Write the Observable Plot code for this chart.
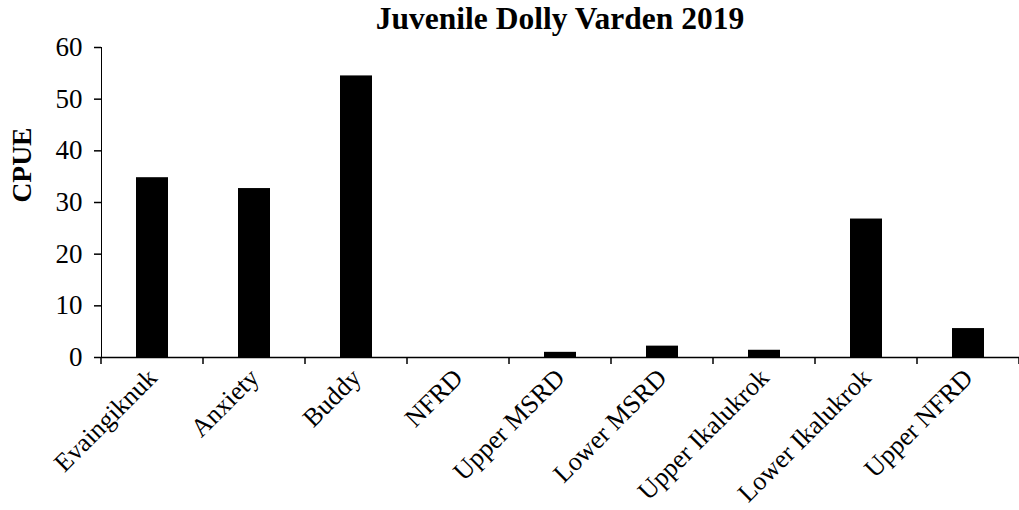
<!DOCTYPE html>
<html>
<head>
<meta charset="utf-8">
<script src="https://cdn.jsdelivr.net/npm/d3@7"></script>
<script src="https://cdn.jsdelivr.net/npm/@observablehq/plot@0.6"></script>
<style>
  body { margin: 0; background: white; }
  #title { font-family: "Liberation Serif", serif; font-weight: bold; font-size: 31.5px;
           line-height: 36px; height: 36px; padding-top: 1px; padding-left: 101px; width: 918px;
           text-align: center; color: black; }
  svg g[aria-label="y-axis tick"] path { stroke-width: 1.5; }
  svg g[aria-label^="x-axis"] text { font-size: 26px; }
</style>
</head>
<body>
<div id="title">Juvenile Dolly Varden 2019</div>
<div id="chart"></div>
<script>
const categories = ["Evaingiknuk", "Anxiety", "Buddy", "NFRD", "Upper MSRD", "Lower MSRD", "Upper Ikalukrok", "Lower Ikalukrok", "Upper NFRD"];
const cpue = [34.8, 32.7, 54.5, 0, 1.0, 2.2, 1.4, 26.8, 5.6];
const yTicks = [0, 10, 20, 30, 40, 50, 60];
const yLabel = "CPUE";

const data = categories.map((c, i) => ({site: c, cpue: cpue[i]}));

function boundaryTicks(index, scales) {
  const x = scales.x, y = scales.y;
  const bw = typeof x.bandwidth === "function" ? x.bandwidth() : (x.bandwidth || 0);
  const centers = categories.map(c => x(c) + bw / 2);
  const step = centers[1] - centers[0];
  const bounds = centers.map(c => c - step / 2).concat([centers[centers.length - 1] + step / 2]);
  const y0 = y(0);
  const g = d3.create("svg:g");
  g.selectAll("line").data(bounds).join("line")
    .attr("x1", d => d).attr("x2", d => d)
    .attr("y1", y0).attr("y2", y0 + 7)
    .attr("stroke", "black").attr("stroke-width", 1.5);
  return g.node();
}

const chart = Plot.plot({
  width: 1019,
  height: 473,
  marginTop: 10,
  marginBottom: 153,
  marginLeft: 101,
  marginRight: 0,
  style: {fontFamily: "Liberation Serif, serif", fontSize: "27px", color: "black", background: "white", overflow: "visible"},
  x: {type: "band", domain: categories, paddingInner: 0.69, paddingOuter: 0.345,
      label: null, tickSize: 0, tickPadding: 16, tickRotate: -45},
  y: {domain: [0, 60], ticks: yTicks, tickSize: 7, tickPadding: 12, label: null, line: true},
  marks: [
    Plot.barY(data, {x: "site", y: "cpue", fill: "black"}),
    Plot.ruleY([0], {stroke: "black", strokeWidth: 1.5}),
    boundaryTicks,
    Plot.text([yLabel], {text: d => d, frameAnchor: "left", dx: -79, rotate: -90,
      fontSize: 27.5, fontWeight: "bold", fill: "black"})
  ]
});
document.getElementById("chart").appendChild(chart);
</script>
</body>
</html>
